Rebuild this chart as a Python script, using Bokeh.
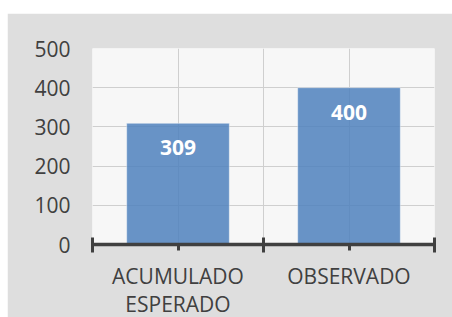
import numpy as np
from bokeh.plotting import figure
from bokeh.models import FixedTicker, ColumnDataSource, Range1d, Spacer
from bokeh.layouts import row, column
from bokeh.core.properties import value
from bokeh.embed import file_html
from bokeh.resources import INLINE

categories = ["ACUMULADO\nESPERADO", "OBSERVADO"]
values = [309, 400]
value_labels = ["309", "400"]
y_ticks = [0, 100, 200, 300, 400, 500]

n = len(categories)
xs = np.arange(n) + 0.5
src = ColumnDataSource(dict(x=xs, top=values, label=value_labels))

FONT = "Open Sans"
TXT = "#404040"

p = figure(frame_width=342, frame_height=196, x_range=Range1d(0, n), y_range=Range1d(0, 500),
           output_backend="svg", toolbar_location=None,
           min_border_left=85, min_border_right=18, min_border_top=35, min_border_bottom=0)

p.border_fill_color = "#dedede"
p.background_fill_color = "#f7f7f7"
p.outline_line_color = None

p.vbar(x="x", top="top", width=0.6, bottom=0, source=src,
       fill_color="#4F81BD", fill_alpha=0.85, line_color="#ffffff", line_alpha=0.4, line_width=1)

p.text(x="x", y="top", text="label", source=src, text_align="center", text_baseline="top",
       y_offset=17, text_color="white", text_font=value(FONT), text_font_style="bold",
       text_font_size="21px")

# grids
p.xgrid.ticker = FixedTicker(ticks=list(np.arange(0, n + 0.5, 0.5)))
p.ygrid.ticker = FixedTicker(ticks=y_ticks)
for g in (p.xgrid[0], p.ygrid[0]):
    g.grid_line_color = "#cfcfcf"
    g.grid_line_width = 1

# y axis
ya = p.yaxis[0]
ya.ticker = FixedTicker(ticks=y_ticks)
ya.axis_line_color = None
ya.major_tick_line_color = None
ya.minor_tick_line_color = None
ya.major_tick_out = 0
ya.major_tick_in = 0
ya.major_label_standoff = 22
ya.major_label_text_font = FONT
ya.major_label_text_font_size = "21px"
ya.major_label_text_color = TXT

# x axis
xa = p.xaxis[0]
xa.ticker = FixedTicker(ticks=list(xs), minor_ticks=list(np.arange(0, n + 1)))
xa.major_label_overrides = {float(x): c for x, c in zip(xs, categories)}
xa.axis_line_color = TXT
xa.axis_line_width = 3.5
xa.major_tick_line_color = TXT
xa.major_tick_line_width = 3
xa.major_tick_in = 0
xa.major_tick_out = 6
xa.minor_tick_line_color = TXT
xa.minor_tick_line_width = 3
xa.minor_tick_in = 7
xa.minor_tick_out = 8
xa.major_label_standoff = 9
xa.major_label_text_font = FONT
xa.major_label_text_font_size = "21px"
xa.major_label_text_color = TXT
xa.major_label_text_line_height = 1.03

layout = row(Spacer(width=7), column(Spacer(height=13), p))
open("out.html", "w").write(file_html(layout, INLINE))
